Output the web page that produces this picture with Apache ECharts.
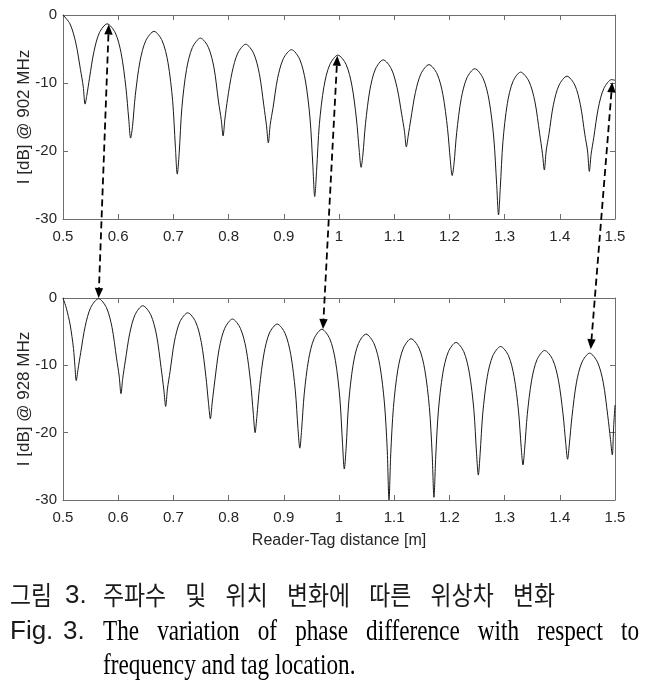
<!DOCTYPE html>
<html><head><meta charset="utf-8">
<script src="https://cdn.jsdelivr.net/npm/echarts@6/dist/echarts.min.js"></script>
<style>html,body{margin:0;padding:0;background:#fff}#c{width:649px;height:686px}</style>
</head><body><div id="c"></div>
<script>
// ---- data ----
const top902 = [
[0.500,0.0],[0.5127,-1.3],[0.5232,-4.1],[0.5316,-8.0],[0.5366,-10.5],[0.540,-13.1],
[0.5432,-11.8],[0.548,-9.3],[0.556,-5.4],[0.566,-2.6],[0.580,-1.3],
[0.5949,-2.65],[0.6055,-5.7],[0.614,-10.7],[0.6191,-15.3],[0.6225,-18.1],
[0.6259,-16.4],[0.631,-11.8],[0.6395,-6.8],[0.6501,-3.75],[0.665,-2.4],
[0.6797,-3.8],[0.6902,-7.0],[0.6986,-12.6],[0.7036,-19.4],[0.707,-23.4],
[0.7104,-20.4],[0.7154,-13.6],[0.7238,-8.0],[0.7343,-4.8],[0.749,-3.4],
[0.7633,-4.75],[0.7736,-7.8],[0.7818,-12.8],[0.7867,-15.4],[0.790,-17.8],
[0.7933,-15.3],[0.7982,-12.3],[0.8064,-8.4],[0.8167,-5.6],[0.831,-4.3],
[0.8453,-5.63],[0.8556,-8.6],[0.8638,-13.3],[0.8687,-16.3],[0.872,-18.8],
[0.8754,-16.1],[0.8804,-13.7],[0.8888,-9.3],[0.8993,-6.4],[0.914,-5.1],
[0.9287,-6.5],[0.9392,-9.7],[0.9476,-15.3],[0.9526,-22.1],[0.956,-26.7],
[0.9594,-22.9],[0.9644,-16.1],[0.9728,-10.5],[0.9833,-7.3],[0.998,-5.9],
[1.0127,-7.25],[1.0232,-10.3],[1.0316,-15.3],[1.0366,-19.9],[1.040,-22.4],
[1.0432,-20.6],[1.048,-16.0],[1.056,-11.0],[1.066,-7.95],[1.080,-6.6],
[1.0947,-7.9],[1.1052,-10.7],[1.1136,-14.6],[1.1186,-17.1],[1.122,-19.4],
[1.1253,-17.8],[1.1302,-15.3],[1.1384,-11.4],[1.1487,-8.6],[1.163,-7.3],
[1.1777,-8.65],[1.1882,-11.7],[1.1966,-16.7],[1.2016,-21.3],[1.205,-23.6],
[1.2083,-21.9],[1.2132,-17.3],[1.2214,-12.3],[1.2317,-9.25],[1.246,-7.9],
[1.261,-9.3],[1.2718,-12.5],[1.2804,-18.1],[1.2856,-24.9],[1.289,-29.4],
[1.2922,-25.4],[1.297,-18.6],[1.305,-13.0],[1.315,-9.8],[1.329,-8.4],
[1.344,-9.73],[1.3548,-12.7],[1.3634,-17.4],[1.3686,-20.4],[1.372,-22.8],
[1.3753,-20.0],[1.3802,-17.6],[1.3884,-13.2],[1.3987,-10.3],[1.413,-9.0],
[1.4272,-10.3],[1.4373,-13.2],[1.4454,-17.6],[1.4503,-20.0],[1.4535,-23.0],
[1.4567,-20.5],[1.4616,-18.0],[1.4697,-13.7],[1.4798,-10.8],[1.494,-9.5],
[1.500,-9.6]
];
const bot928 = [
[0.500,0.0],[0.506,-1.5],[0.513,-4.0],[0.519,-7.5],[0.5215,-10.0],[0.524,-12.26],
[0.5272,-10.6],[0.5321,-8.1],[0.5402,-4.2],[0.5503,-1.4],[0.5645,-0.1],
[0.5787,-1.43],[0.5888,-4.35],[0.5969,-8.9],[0.6018,-11.6],[0.605,-14.2],
[0.6082,-11.95],[0.6129,-9.35],[0.6208,-5.3],[0.6307,-2.45],[0.6445,-1.15],
[0.659,-2.5],[0.6694,-5.5],[0.6777,-10.35],[0.6827,-13.65],[0.686,-16.1],
[0.6892,-13.5],[0.694,-10.9],[0.702,-6.4],[0.712,-3.5],[0.726,-2.2],
[0.7403,-3.55],[0.7506,-6.6],[0.7588,-11.6],[0.7637,-15.7],[0.767,-17.95],
[0.7702,-15.6],[0.775,-12.3],[0.783,-7.5],[0.793,-4.5],[0.807,-3.13],
[0.8213,-4.5],[0.8316,-7.5],[0.8398,-12.5],[0.8447,-17.1],[0.848,-20.0],
[0.8512,-17.6],[0.856,-13.3],[0.864,-8.3],[0.874,-5.2],[0.888,-3.87],
[0.9023,-5.25],[0.9126,-8.4],[0.9208,-13.7],[0.9257,-19.4],[0.929,-22.3],
[0.9322,-19.65],[0.937,-14.25],[0.945,-9.1],[0.955,-6.0],[0.969,-4.65],
[0.9832,-6.05],[0.9934,-9.25],[1.0015,-14.85],[1.0064,-21.65],[1.0096,-25.4],
[1.0128,-22.4],[1.0175,-15.6],[1.0254,-10.0],[1.0352,-6.76],[1.049,-5.36],
[1.0636,-6.8],[1.074,-10.0],[1.0823,-15.6],[1.0873,-22.4],[1.0906,-30.0],
[1.0938,-23.05],[1.0986,-16.25],[1.1066,-10.65],[1.1166,-7.45],[1.1305,-6.05],
[1.145,-7.45],[1.1554,-10.65],[1.1637,-16.25],[1.1687,-23.05],[1.172,-29.6],
[1.1752,-23.6],[1.18,-16.8],[1.188,-11.2],[1.198,-8.0],[1.212,-6.6],
[1.2261,-7.98],[1.2362,-11.15],[1.2443,-16.6],[1.2492,-23.1],[1.2524,-26.3],
[1.2556,-23.2],[1.2605,-17.1],[1.2686,-11.7],[1.2787,-8.57],[1.2928,-7.2],
[1.307,-8.56],[1.3171,-11.65],[1.3252,-16.8],[1.3301,-22.2],[1.3333,-24.8],
[1.3364,-22.3],[1.3411,-17.3],[1.349,-12.2],[1.3588,-9.14],[1.3725,-7.79],
[1.3871,-9.14],[1.3975,-12.2],[1.4058,-17.2],[1.4108,-21.6],[1.4141,-23.95],
[1.4173,-21.7],[1.4221,-17.6],[1.4301,-12.6],[1.4401,-9.54],[1.454,-8.19],
[1.4684,-9.54],[1.4787,-12.55],[1.4869,-17.5],[1.4918,-21.0],[1.4951,-23.3],
[1.4975,-19.2],[1.500,-15.9]
];
// arrow end points: top-plot coordinates and bottom-plot coordinates
const arrowTop = [[0.583,-1.4],[0.997,-6.0],[1.495,-9.9]];
const arrowBot = [[0.5645,0.0],[0.971,-4.6],[1.456,-7.6]];
const xRange = [0.5, 1.5], xStep = 0.1;
const yRange = [-30, 0], yStep = 10;
const yNames = ['I [dB] @ 902 MHz', 'I [dB] @ 928 MHz'];
const xName = 'Reader-Tag distance [m]';
const capKoHead = ['그림', '3.'];
const capKo = ['주파수', '및', '위치', '변화에', '따른', '위상차', '변화'];
const capEn1 = ['The', 'variation', 'of', 'phase', 'difference', 'with', 'respect', 'to'];
const capEn2 = 'frequency and tag location.';
const capFig = ['Fig.', '3.'];

// ---- chart ----
const FRAME = '#6e6e6e', TXT = '#262626', SANS = '"Liberation Sans", Arial, sans-serif';
const grids = [
  {left: 63, right: 34, top: 15, height: 204},
  {left: 63, right: 34, top: 298, height: 202}
];
const xAxes = [], yAxes = [];
grids.forEach((g, i) => {
  const base = {gridIndex: i, type: 'value', min: xRange[0], max: xRange[1], interval: xStep,
    axisLine: {show: true, onZero: false, lineStyle: {color: FRAME, width: 1}},
    axisTick: {show: true, inside: true, length: 5, lineStyle: {color: FRAME}},
    splitLine: {show: false}};
  xAxes.push(Object.assign({}, base, {position: 'bottom',
    axisLabel: {color: TXT, fontSize: 15, fontFamily: SANS, margin: 10},
    name: i === 1 ? xName : '', nameLocation: 'middle', nameGap: 33, nameMoveOverlap: false,
    nameTextStyle: {color: TXT, fontSize: 16, fontFamily: SANS}}));
  xAxes.push(Object.assign({}, base, {position: 'top', axisLabel: {show: false}}));
  const ybase = {gridIndex: i, type: 'value', min: yRange[0], max: yRange[1], interval: yStep,
    axisLine: {show: true, onZero: false, lineStyle: {color: FRAME, width: 1}},
    axisTick: {show: true, inside: true, length: 5, lineStyle: {color: FRAME}},
    splitLine: {show: false}};
  yAxes.push(Object.assign({}, ybase, {position: 'left',
    axisLabel: {color: TXT, fontSize: 15, fontFamily: SANS, margin: 6},
    name: yNames[i], nameLocation: 'middle', nameGap: 30, nameRotate: 90, nameMoveOverlap: false,
    nameTextStyle: {color: TXT, fontSize: 17, fontFamily: SANS}}));
  yAxes.push(Object.assign({}, ybase, {position: 'right', axisLabel: {show: false}}));
});

const chart = echarts.init(document.getElementById('c'), null, {renderer: 'canvas'});
chart.setOption({
  animation: false,
  backgroundColor: '#fff',
  grid: grids,
  xAxis: xAxes,
  yAxis: yAxes,
  series: [
    {type: 'line', xAxisIndex: 0, yAxisIndex: 0, data: top902, showSymbol: false, smooth: 0.3,
     lineStyle: {color: '#1a1a1a', width: 1}, clip: true},
    {type: 'line', xAxisIndex: 2, yAxisIndex: 2, data: bot928, showSymbol: false, smooth: 0.3,
     lineStyle: {color: '#1a1a1a', width: 1}, clip: true}
  ]
});

// ---- annotations: dashed double-headed arrows + caption ----
const gfx = [];
arrowTop.forEach((a, k) => {
  const p1 = chart.convertToPixel({xAxisIndex: 0, yAxisIndex: 0}, a);
  const p2 = chart.convertToPixel({xAxisIndex: 2, yAxisIndex: 2}, arrowBot[k]);
  const dx = p2[0] - p1[0], dy = p2[1] - p1[1], len = Math.hypot(dx, dy);
  const ux = dx / len, uy = dy / len, nx = -uy, ny = ux;
  const L = 10, W = 4.2;
  const b1 = [p1[0] + ux * L, p1[1] + uy * L], b2 = [p2[0] - ux * L, p2[1] - uy * L];
  gfx.push({type: 'line', shape: {x1: b1[0], y1: b1[1], x2: b2[0], y2: b2[1]},
    style: {stroke: '#000', lineWidth: 1.8, lineDash: [7, 4]}, z: 100});
  gfx.push({type: 'polygon', shape: {points: [p1, [b1[0] + nx * W, b1[1] + ny * W], [b1[0] - nx * W, b1[1] - ny * W]]},
    style: {fill: '#000'}, z: 101});
  gfx.push({type: 'polygon', shape: {points: [p2, [b2[0] + nx * W, b2[1] + ny * W], [b2[0] - nx * W, b2[1] - ny * W]]},
    style: {fill: '#000'}, z: 101});
});

const KO = '"Noto Sans CJK KR", sans-serif', SERIF = '"Liberation Serif", "Times New Roman", serif';
const ctx = document.createElement('canvas').getContext('2d');
function justify(words, font, sx, left, right, y, style) {
  ctx.font = font;
  const ws = words.map(w => ctx.measureText(w).width * sx);
  const gap = (right - left - ws.reduce((s, v) => s + v, 0)) / (words.length - 1);
  let cx = left;
  words.forEach((w, k) => {
    gfx.push({type: 'text', x: cx, y: y, scaleX: sx, z: 100, style: Object.assign({text: w, verticalAlign: 'middle'}, style)});
    cx += ws[k] + gap;
  });
}
// Korean line
const KFS = 26, KSX = 0.88;
gfx.push({type: 'text', x: 10, y: 595, z: 100, scaleX: KSX,
  style: {text: capKoHead[0], fontSize: KFS, fontFamily: KO, fill: '#1a1a1a', verticalAlign: 'middle'}});
gfx.push({type: 'text', x: 65, y: 596, z: 100,
  style: {text: capKoHead[1], fontSize: 26, fontFamily: SANS, fill: '#1a1a1a', verticalAlign: 'middle'}});
justify(capKo, KFS + 'px "Noto Sans CJK KR"', KSX, 103, 555, 595, {fontSize: KFS, fontFamily: KO, fill: '#1a1a1a'});
// Fig. 3.
const figX = [10, 63];
capFig.forEach((w, k) => {
  gfx.push({type: 'text', x: figX[k], y: 632, z: 100,
    style: {text: w, fontSize: 26, fontFamily: SANS, fill: '#1a1a1a', verticalAlign: 'middle'}});
});
// English lines
const SX = 0.80, EFS = 29;
justify(capEn1, EFS + 'px "Liberation Serif"', SX, 103, 639, 632, {fontSize: EFS, fontFamily: SERIF, fill: '#000'});
gfx.push({type: 'text', x: 103, y: 666, scaleX: SX, z: 100,
  style: {text: capEn2, fontSize: EFS, fontFamily: SERIF, fill: '#000', verticalAlign: 'middle'}});

chart.setOption({graphic: gfx});
</script>
</body></html>
